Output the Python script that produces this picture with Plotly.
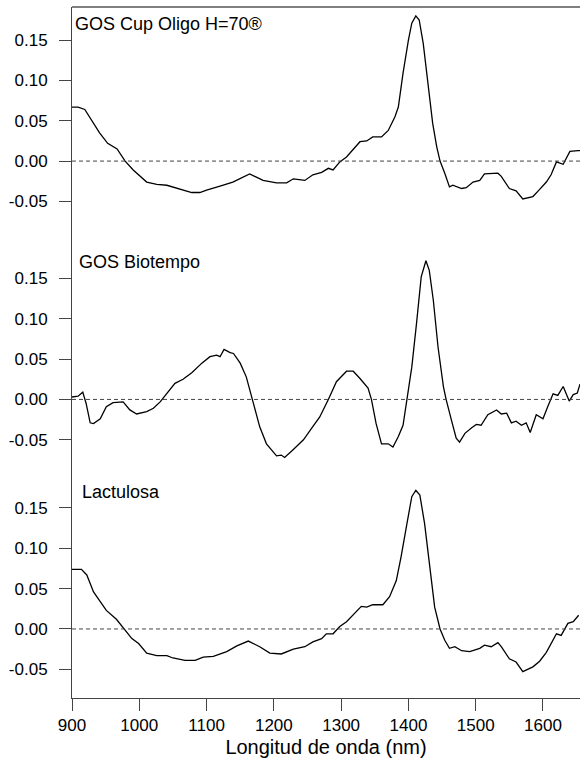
import plotly.graph_objects as go

# ---------------- data ----------------
panel_labels = ["GOS Cup Oligo H=70®", "GOS Biotempo", "Lactulosa"]

wl_cup = [900, 909, 919, 941, 953, 967, 979, 991, 1011, 1026, 1041, 1050, 1078, 1090, 1100, 1120, 1139, 1164,
          1184, 1204, 1219, 1229, 1246, 1258, 1271, 1281, 1288, 1298, 1308, 1328, 1338, 1347, 1360, 1370, 1380,
          1385, 1392, 1400, 1405, 1411, 1416, 1422, 1429, 1436, 1442, 1447, 1454, 1461, 1466, 1479, 1486, 1496,
          1506, 1513, 1533, 1538, 1550, 1560, 1570, 1585, 1593, 1605, 1612, 1620, 1630, 1640, 1652, 1655]
val_cup = [0.067, 0.067, 0.064, 0.035, 0.022, 0.015, 0.0, -0.011, -0.026, -0.029, -0.030, -0.032, -0.039, -0.039,
           -0.036, -0.031, -0.026, -0.016, -0.024, -0.027, -0.027, -0.022, -0.024, -0.017, -0.014, -0.009, -0.011,
           -0.001, 0.005, 0.024, 0.025, 0.030, 0.030, 0.038, 0.055, 0.067, 0.109, 0.150, 0.171, 0.180, 0.175,
           0.146, 0.096, 0.047, 0.018, 0.0, -0.015, -0.032, -0.030, -0.034, -0.033, -0.026, -0.024, -0.016,
           -0.015, -0.019, -0.034, -0.037, -0.047, -0.044, -0.037, -0.026, -0.017, -0.001, -0.004, 0.012, 0.013,
           0.013]

wl_bio = [900, 909, 916, 921, 927, 932, 942, 951, 961, 976, 986, 996, 1011, 1021, 1031, 1041, 1053, 1065, 1078,
          1093, 1105, 1115, 1120, 1126, 1135, 1140, 1150, 1159, 1168, 1179, 1189, 1204, 1211, 1216, 1229, 1244,
          1256, 1268, 1281, 1293, 1308, 1318, 1328, 1340, 1345, 1352, 1360, 1370, 1377, 1385, 1392, 1398, 1405,
          1412, 1419, 1426, 1431, 1437, 1444, 1452, 1456, 1464, 1471, 1476, 1484, 1494, 1501, 1508, 1518, 1531,
          1538, 1546, 1553, 1560, 1568, 1575, 1581, 1590, 1600, 1607, 1615, 1622, 1630, 1639, 1645, 1651, 1655]
val_bio = [0.003, 0.004, 0.009, -0.005, -0.029, -0.030, -0.024, -0.009, -0.004, -0.003, -0.013, -0.018, -0.015,
           -0.011, -0.003, 0.007, 0.020, 0.025, 0.033, 0.045, 0.053, 0.055, 0.053, 0.062, 0.058, 0.057, 0.045,
           0.028, 0.0, -0.034, -0.055, -0.070, -0.069, -0.072, -0.062, -0.050, -0.036, -0.022, 0.0, 0.022, 0.035,
           0.035, 0.026, 0.014, 0.0, -0.030, -0.055, -0.055, -0.059, -0.046, -0.032, 0.0, 0.040, 0.094, 0.152,
           0.172, 0.160, 0.123, 0.065, 0.016, 0.0, -0.026, -0.048, -0.053, -0.042, -0.035, -0.031, -0.032, -0.019,
           -0.013, -0.018, -0.017, -0.029, -0.027, -0.032, -0.029, -0.041, -0.019, -0.024, -0.009, 0.007, 0.005,
           0.016, -0.002, 0.006, 0.008, 0.019]

wl_lac = [900, 914, 922, 932, 942, 951, 966, 979, 989, 999, 1011, 1026, 1041, 1050, 1068, 1083, 1095, 1110, 1130,
          1145, 1162, 1179, 1194, 1211, 1229, 1246, 1258, 1271, 1278, 1288, 1298, 1308, 1330, 1338, 1347, 1362,
          1372, 1382, 1389, 1397, 1405, 1411, 1417, 1424, 1432, 1439, 1447, 1454, 1461, 1469, 1479, 1491, 1506,
          1513, 1523, 1533, 1538, 1550, 1560, 1570, 1585, 1595, 1605, 1612, 1620, 1627, 1637, 1645, 1653]
val_lac = [0.074, 0.074, 0.067, 0.046, 0.034, 0.023, 0.012, -0.001, -0.012, -0.018, -0.030, -0.033, -0.033,
           -0.036, -0.039, -0.039, -0.035, -0.034, -0.028, -0.021, -0.015, -0.022, -0.030, -0.031, -0.025, -0.022,
           -0.016, -0.012, -0.006, -0.006, 0.003, 0.009, 0.028, 0.027, 0.030, 0.030, 0.040, 0.060, 0.089, 0.127,
           0.164, 0.172, 0.166, 0.131, 0.077, 0.027, 0.0, -0.014, -0.024, -0.022, -0.027, -0.028, -0.024, -0.020,
           -0.022, -0.017, -0.022, -0.037, -0.041, -0.053, -0.047, -0.040, -0.029, -0.019, -0.006, -0.008, 0.007,
           0.009, 0.017]

y_tickvals = [-0.05, 0.0, 0.05, 0.10, 0.15]
y_ticktext = ["-0.05", "0.00", "0.05", "0.10", "0.15"]
x_tickvals = [900, 1000, 1100, 1200, 1300, 1400, 1500, 1600]
x_title = "Longitud de onda (nm)"

# ---------------- layout ----------------
FONT = "Liberation Sans, Arial, sans-serif"
AX = "#444444"
x_range = [900, 1655]
panels = [
    (wl_cup, val_cup, "y", [0.6663, 1.0], [-0.0949, 0.1911]),
    (wl_bio, val_bio, "y2", [0.3275, 0.6663], [-0.0896, 0.2007]),
    (wl_lac, val_lac, "y3", [0.0, 0.3275], [-0.0856, 0.1950]),
]

fig = go.Figure()
xrefs = ["x", "x2", "x3"]
for i, (wl, val, yref, dom, rng) in enumerate(panels):
    fig.add_trace(go.Scatter(x=wl, y=val, mode="lines", xaxis=xrefs[i], yaxis=yref,
                             line=dict(color="black", width=1.3), showlegend=False, hoverinfo="skip"))

layout = dict(
    width=580, height=762,
    margin=dict(l=72, r=0, t=7, b=64),
    paper_bgcolor="white", plot_bgcolor="white",
    font=dict(family=FONT, size=17, color="black"),
    showlegend=False,
)
for i, (wl, val, yref, dom, rng) in enumerate(panels):
    ykey = "yaxis" if i == 0 else f"yaxis{i+1}"
    xkey = "xaxis" if i == 0 else f"xaxis{i+1}"
    layout[ykey] = dict(domain=dom, range=rng, anchor=xrefs[i], showline=True, linecolor=AX, linewidth=1,
                        ticks="outside", ticklen=12, tickcolor=AX, tickwidth=1,
                        tickvals=y_tickvals, ticktext=y_ticktext, showgrid=False, zeroline=False,
                        ticklabelstandoff=8, tickfont=dict(size=17, family=FONT))
    xa = dict(range=x_range, anchor=yref, showgrid=False, zeroline=False)
    if i > 0:
        xa["matches"] = "x"
    if i < 2:
        xa.update(visible=False)
    else:
        xa.update(showline=True, linecolor=AX, linewidth=1, ticks="outside", ticklen=12, tickcolor=AX,
                  tickvals=x_tickvals, tickfont=dict(size=17, family=FONT),
                  title=dict(text=x_title, font=dict(size=20, family=FONT), standoff=5))
    layout[xkey] = xa
fig.update_layout(**layout)

shapes = []
for i, (wl, val, yref, dom, rng) in enumerate(panels):
    shapes.append(dict(type="line", xref="paper", yref=yref, x0=0, x1=1, y0=0, y1=0,
                       line=dict(color=AX, width=1, dash="4px,3px")))
shapes.append(dict(type="line", xref="paper", yref="paper", x0=0, x1=1, y0=1, y1=1,
                   line=dict(color="black", width=1.2)))
fig.update_layout(shapes=shapes)

label_x = [0.002, 0.0098, 0.0157]
label_y = [0.9754, 0.6313, 0.2983]
for i in range(3):
    fig.add_annotation(text=panel_labels[i], xref="paper", yref="paper", x=label_x[i], y=label_y[i],
                       xanchor="left", yanchor="middle", showarrow=False,
                       font=dict(size=18, family=FONT, color="black"))

fig.write_html("out.html", config={"displayModeBar": False},
               post_script="document.body.style.margin='0';")
